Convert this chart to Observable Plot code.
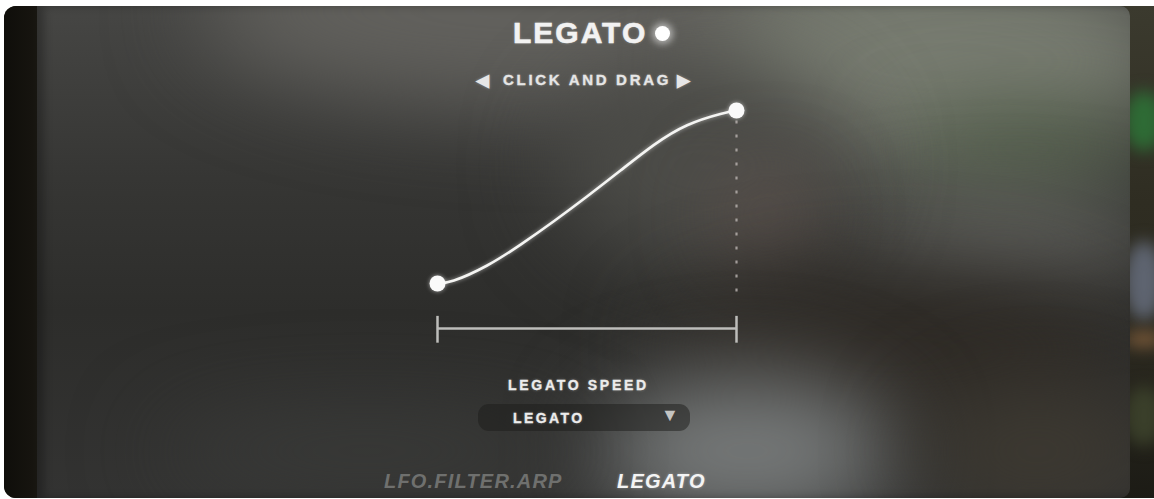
<!DOCTYPE html>
<html>
<head>
<meta charset="utf-8">
<script src="https://cdn.jsdelivr.net/npm/d3@7"></script>
<script src="https://cdn.jsdelivr.net/npm/@observablehq/plot@0.6"></script>
<style>
  html, body { margin: 0; padding: 0; background: #ffffff; }
  #wrap { position: relative; width: 1154px; height: 499px; overflow: hidden; font-family: "Liberation Sans", Arial, sans-serif; }
  #frame { position: absolute; left: 4px; top: 6px; width: 1150px; height: 492px; border-radius: 12px 0 0 12px; overflow: hidden;
    background: linear-gradient(180deg, #3b3a2e 0%, #2f2d22 40%, #2a281f 70%, #1c1b15 100%); }
  .fblob { position: absolute; border-radius: 50%; filter: blur(8px); }
  #leftstrip { position: absolute; left: 4px; top: 6px; width: 40px; height: 492px; border-radius: 12px 0 0 12px;
    background: linear-gradient(90deg, #0f0e0a 0%, #16140f 70%, #1b1a14 100%); }
  #panel { position: absolute; left: 37px; top: 6px; width: 1093px; height: 492px; border-radius: 0 10px 10px 0; overflow: hidden;
    background: linear-gradient(180deg, #464644 0%, #363634 35%, #2d2d2b 62%, #333332 100%); }
  .blob { position: absolute; border-radius: 50%; filter: blur(45px); }
  #panelShade { position: absolute; left: 37px; top: 6px; width: 1093px; height: 492px; border-radius: 0 10px 10px 0;
    box-shadow: inset 7px 0 9px rgba(0,0,0,0.28); pointer-events: none; }
  .lbl { position: absolute; color: #f2f2f2; font-weight: bold; white-space: nowrap; text-shadow: 0 0 3px rgba(255,255,255,0.35); }
  #title { left: 513px; top: 16px; font-size: 30px; letter-spacing: 2px; -webkit-text-stroke: 0.6px #f2f2f2; }
  #titleDot { position: absolute; left: 655px; top: 26px; width: 15px; height: 15px; border-radius: 50%; background: #ffffff; box-shadow: 0 0 7px 3px rgba(255,255,255,0.55); }
  #dragL { left: 476px; top: 70px; font-size: 17px; color: #e6e6e6; }
  #drag { left: 503px; top: 71px; font-size: 15px; letter-spacing: 2.7px; color: #e6e6e6; -webkit-text-stroke: 0.3px #e6e6e6; }
  #dragR { left: 677px; top: 70px; font-size: 17px; color: #e6e6e6; }
  #speed { left: 508px; top: 377px; font-size: 14px; letter-spacing: 2.7px; color: #ececec; -webkit-text-stroke: 0.3px #ececec; }
  #dropdown { position: absolute; left: 478px; top: 404px; width: 212px; height: 27px; border-radius: 11px; background: rgba(28,28,26,0.5); }
  #ddText { left: 513px; top: 410px; font-size: 14px; letter-spacing: 2.4px; color: #ececec; -webkit-text-stroke: 0.3px #ececec; }
  #ddArrow { left: 661px; top: 405px; font-size: 18px; color: #c4c4c2; text-shadow: none; }
  #tab1 { left: 384px; top: 470px; font-size: 20px; font-style: italic; letter-spacing: 1.2px; color: #6f706e; text-shadow: none; }
  #tab2 { left: 617px; top: 470px; font-size: 20px; font-style: italic; letter-spacing: 1.2px; color: #f4f4f4; }
  #plotHolder { position: absolute; left: 0; top: 0; }
  #plotHolder svg { background: transparent !important; overflow: visible; }
  #plotHolder svg g[aria-label="line"], #plotHolder svg g[aria-label="dot"] { filter: drop-shadow(0 0 2px rgba(255,255,255,0.55)); }
</style>
</head>
<body>
<div id="wrap">
  <div id="frame">
    <div class="fblob" style="left:1120px;top:85px;width:40px;height:60px;background:#2e6b35;"></div>
    <div class="fblob" style="left:1120px;top:235px;width:40px;height:80px;background:#5e6470;"></div>
    <div class="fblob" style="left:1120px;top:325px;width:40px;height:16px;background:#7a5a3a;"></div>
    <div class="fblob" style="left:1120px;top:380px;width:40px;height:60px;background:#3a3f2a;"></div>
  </div>
  <div id="leftstrip"></div>
  <div id="panel">
    <div class="blob" style="left:160px;top:-90px;width:720px;height:190px;background:#62615d;"></div>
    <div class="blob" style="left:680px;top:-60px;width:460px;height:230px;background:#787c71;"></div>
    <div class="blob" style="left:860px;top:110px;width:260px;height:65px;background:#47563f;"></div>
    <div class="blob" style="left:800px;top:200px;width:330px;height:70px;background:#6e6e6a;"></div>
    <div class="blob" style="left:520px;top:60px;width:300px;height:200px;background:#4c4c48;"></div>
    <div class="blob" style="left:690px;top:175px;width:80px;height:70px;background:#66544f;"></div>
    <div class="blob" style="left:620px;top:270px;width:470px;height:150px;background:#2e2a25;"></div>
    <div class="blob" style="left:560px;top:370px;width:300px;height:150px;background:#787b7b;"></div>
    <div class="blob" style="left:880px;top:380px;width:240px;height:130px;background:#3d3931;"></div>
    <div class="blob" style="left:120px;top:410px;width:420px;height:70px;background:#3b3c3a;"></div>
  </div>
  <div id="panelShade"></div>
  <div id="plotHolder"></div>
  <div class="lbl" id="title"></div>
  <div id="titleDot"></div>
  <div class="lbl" id="dragL">◀</div>
  <div class="lbl" id="drag"></div>
  <div class="lbl" id="dragR">▶</div>
  <div class="lbl" id="speed"></div>
  <div id="dropdown"></div>
  <div class="lbl" id="ddText"></div>
  <div class="lbl" id="ddArrow">▼</div>
  <div class="lbl" id="tab1"></div>
  <div class="lbl" id="tab2"></div>
</div>
<script>
// ---- data ----
const titleText = "LEGATO";
const hintText = "CLICK AND DRAG";
const speedLabel = "LEGATO SPEED";
const speedValue = "LEGATO";
const tabLabels = ["LFO.FILTER.ARP", "LEGATO"];

// legato curve (normalised time, normalised value)
const curveX = [0, 0.055, 0.166, 0.278, 0.389, 0.5, 0.612, 0.723, 0.835, 0.946, 1];
const curveY = [0, 0.017, 0.104, 0.225, 0.36, 0.503, 0.653, 0.8, 0.915, 0.98, 1];
// end points (handles)
const handleX = [0, 1];
const handleY = [0, 1];
// time bracket below the curve
const bracketStart = 0;
const bracketEnd = 1;
const bracketLevel = -0.26;
const bracketTickTop = -0.19;
const bracketTickBottom = -0.345;
// dotted guide from end handle down
const guideTop = 0.94;
const guideBottom = -0.11;

// ---- text ----
document.getElementById("title").textContent = titleText;
document.getElementById("drag").textContent = hintText;
document.getElementById("speed").textContent = speedLabel;
document.getElementById("ddText").textContent = speedValue;
document.getElementById("tab1").textContent = tabLabels[0];
document.getElementById("tab2").textContent = tabLabels[1];

// ---- chart ----
const curve = curveX.map((x, i) => ({x, y: curveY[i]}));
const handles = handleX.map((x, i) => ({x, y: handleY[i]}));

const chart = Plot.plot({
  width: 1154,
  height: 499,
  margin: 0,
  x: {domain: [0, 1], range: [437, 736], axis: null},
  y: {domain: [0, 1], range: [283, 110], axis: null},
  style: {background: "transparent", overflow: "visible"},
  marks: [
    Plot.ruleX([bracketEnd], {y1: guideTop, y2: guideBottom, stroke: "#b4aeab", strokeOpacity: 0.85, strokeWidth: 2.2, strokeDasharray: "3,11"}),
    Plot.ruleY([bracketLevel], {x1: bracketStart, x2: bracketEnd, stroke: "#bdbdba", strokeWidth: 2.5}),
    Plot.ruleX([bracketStart, bracketEnd], {y1: bracketTickTop, y2: bracketTickBottom, stroke: "#bdbdba", strokeWidth: 2.5}),
    Plot.line(curve, {x: "x", y: "y", stroke: "#f4f4f2", strokeWidth: 2.6, curve: "natural"}),
    Plot.dot(handles, {x: "x", y: "y", r: 8, fill: "#fafafa", stroke: "none"})
  ]
});
document.getElementById("plotHolder").appendChild(chart);
</script>
</body>
</html>
